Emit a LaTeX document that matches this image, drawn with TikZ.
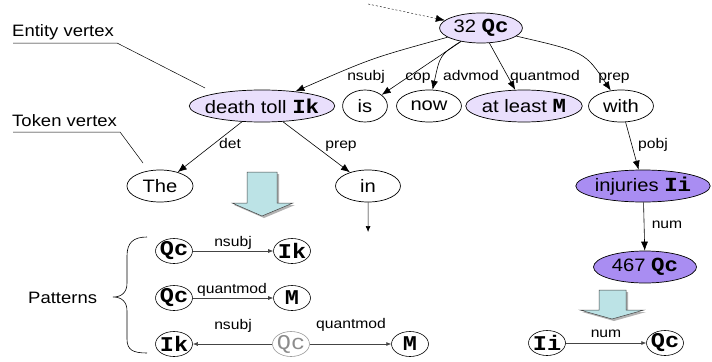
\documentclass[tikz,border=0pt]{standalone}
\usepackage{fontspec}
\setmainfont{Liberation Sans}
\newfontfamily\monofont{Liberation Mono}
\usetikzlibrary{arrows.meta,shapes.geometric}
\definecolor{lav}{HTML}{E9DFFC}
\definecolor{purp}{HTML}{A98DF2}
\definecolor{blockfill}{HTML}{BCE3E6}
\definecolor{darkline}{HTML}{444444}
\newcommand{\mb}[1]{{\monofont\bfseries\fontsize{20}{20}\selectfont #1}}
\newcommand{\pb}[1]{{\monofont\bfseries\fontsize{21}{21}\selectfont #1}}
\newcommand{\pr}[1]{{\monofont\fontsize{21}{21}\selectfont #1}}
\begin{document}
\begin{tikzpicture}[x=0.892857pt, y=-1pt, xscale=1.12,
  every node/.style={transform shape},
  vtx/.style={ellipse, draw, line width=0.7pt, inner xsep=-8pt, inner ysep=0pt,
    minimum height=32pt, font=\fontsize{18}{18}\selectfont},
  ent/.style={vtx, fill=lav},
  entb/.style={vtx, fill=purp},
  lbl/.style={font=\fontsize{14}{14}\selectfont, inner sep=0pt, anchor=base},
  side/.style={font=\fontsize{16.5}{16.5}\selectfont, inner sep=0pt},
  pat/.style={ellipse, draw, line width=0.6pt, inner xsep=-6pt, inner ysep=-2pt,
    minimum width=33pt, minimum height=25pt},
  arr/.style={-{Latex[length=9pt,width=7pt]}, line width=0.6pt},
  parr/.style={-{Latex[length=5pt,width=4pt]}, line width=0.6pt, draw=darkline},
  lead/.style={line width=0.5pt},
  blockarrow/.style={fill=blockfill, draw=darkline, line width=0.5pt},
  blockshadow/.style={fill=black!30, draw=none}]
\useasboundingbox (0,0) rectangle (712,361);

% side labels
\node[side, anchor=base west] (entlab) at (12,36) {Entity vertex};
\node[side, anchor=base west] (toklab) at (12,126) {Token vertex};
\node[side, anchor=west] (patlab) at (28,298) {Patterns};
\coordinate (e1) at (13,43);
\coordinate (e2) at (117,43);
\coordinate (e3) at (205,88);
\coordinate (t1) at (13,132);
\coordinate (t2) at (120,132);
\coordinate (t3) at (143,163);
\draw[lead] (e1) -- (e2) -- (e3);
\draw[lead] (t1) -- (t2) -- (t3);

% main graph
\node[ent, minimum width=74pt, minimum height=30pt] (q32) at (481,28) {32 \mb{Qc}};
\node[ent, minimum width=130pt] (death) at (262,106) {death toll \mb{Ik}};
\node[vtx, minimum width=40pt] (is) at (365,106) {is};
\node[vtx, minimum width=58pt] (now) at (429,106) {now};
\node[ent, minimum width=104pt] (atleast) at (524,106) {at least \mb{M}};
\node[vtx, minimum width=58pt] (with) at (621,106) {with};
\node[vtx, minimum width=59pt] (the) at (160,186) {The};
\node[vtx, minimum width=58pt] (in) at (368,186) {in};
\node[entb, minimum width=120pt] (inj) at (643,186) {injuries \mb{Ii}};
\node[entb, minimum width=92pt] (q467) at (645,267) {467 \mb{Qc}};

\coordinate (dots) at (368,4);
\coordinate (inend) at (368,232);
\draw[arr, dash pattern=on 2pt off 2pt, line width=0.4pt] (dots) -- (q32);
\draw[arr] (q32) .. controls (372,58) .. (death);
\draw[arr] (q32) -- (is);
\draw[arr] (q32) .. controls (440,55) .. (now);
\draw[arr] (q32) -- (atleast);
\draw[arr] (q32) .. controls (585,52) .. (with);
\draw[arr] (death) -- (the);
\draw[arr] (death) -- (in);
\draw[arr] (with) -- (inj);
\draw[arr] (inj) -- (q467);
\draw[-{Latex[length=6pt,width=5pt]}, line width=0.6pt] (in) -- (inend);

\node[lbl] (lnsubj) at (366,80) {nsubj};
\node[lbl] (lcop) at (418,80) {cop};
\node[lbl] (ladv) at (471,80) {advmod};
\node[lbl] (lqm) at (545,80) {quantmod};
\node[lbl] (lprep) at (614,80) {prep};
\node[lbl] (ldet) at (230,148) {det};
\node[lbl] (lprep2) at (341,148) {prep};
\node[lbl] (lpobj) at (653,148) {pobj};
\node[lbl] (lnum) at (667,228) {num};

% block arrows
\fill[blockshadow] (249,174) -- (279,174) -- (279,205) -- (295,205) -- (264,218) -- (234,205) -- (249,205) -- cycle;
\draw[blockarrow] (247,172) -- (277,172) -- (277,203) -- (293,203) -- (262,216) -- (232,203) -- (247,203) -- cycle;
\fill[blockshadow] (601,292) -- (628,292) -- (628,312) -- (646,312) -- (614,321) -- (582,312) -- (601,312) -- cycle;
\draw[blockarrow] (599,290) -- (626,290) -- (626,310) -- (644,310) -- (612,319) -- (580,310) -- (599,310) -- cycle;

% brace
\draw[line width=0.6pt] (147,237) .. controls (133,237) and (127,243) .. (127,256)
  -- (127,283) .. controls (127,292) and (122,297) .. (113,297)
  .. controls (122,297) and (127,302) .. (127,311)
  -- (127,339) .. controls (127,350) and (133,353) .. (147,353);

% patterns
\node[pat] (p1a) at (174,251) {\pb{Qc}};
\node[pat] (p1b) at (292,251) {\pb{Ik}};
\node[pat] (p2a) at (174,298) {\pb{Qc}};
\node[pat] (p2b) at (292,298) {\pb{M}};
\node[pat] (p3a) at (174,344) {\pb{Ik}};
\node[pat, draw=black!40, text=black!45] (p3b) at (291,344) {\pr{Qc}};
\node[pat] (p3c) at (410,344) {\pb{M}};
\node[pat] (p4a) at (547,343) {\pb{Ii}};
\node[pat] (p4b) at (665,343) {\pb{Qc}};
\draw[parr] (p1a) -- (p1b);
\draw[parr] (p2a) -- (p2b);
\draw[parr] (p3b) -- (p3a);
\draw[parr] (p3b) -- (p3c);
\draw[parr] (p4a) -- (p4b);
\node[lbl] (pl1) at (233,246) {nsubj};
\node[lbl] (pl2) at (232,293) {quantmod};
\node[lbl] (pl3) at (233,329) {nsubj};
\node[lbl] (pl4) at (351,328) {quantmod};
\node[lbl] (pl5) at (606,337) {num};
\end{tikzpicture}
\end{document}
